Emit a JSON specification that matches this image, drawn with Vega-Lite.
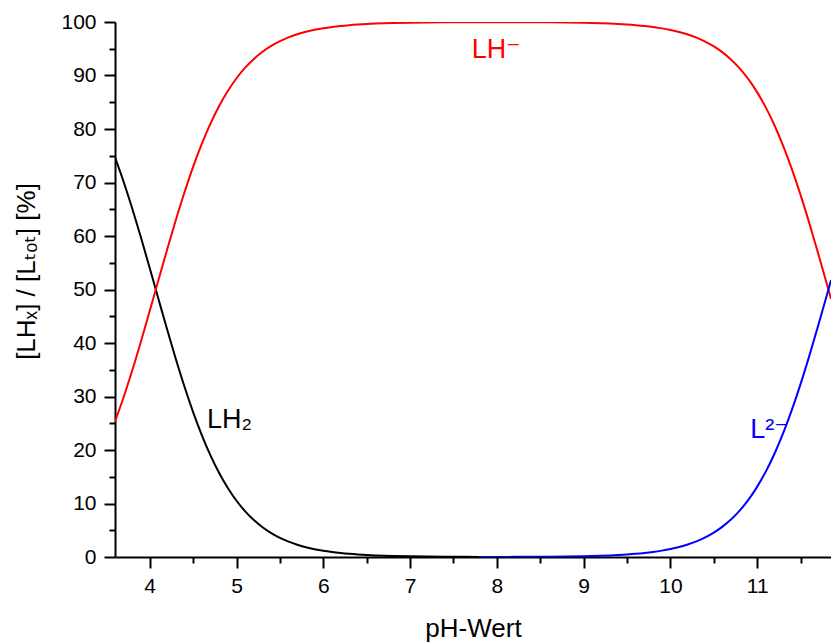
{
  "$schema": "https://vega.github.io/schema/vega-lite/v6.json",
  "width": 716,
  "height": 535,
  "autosize": {"type": "none"},
  "padding": {"left": 115, "top": 22, "right": 0, "bottom": 85},
  "background": "white",
  "config": {
    "view": {"stroke": null},
    "font": "Liberation Sans",
    "axis": {
      "domainColor": "#000000",
      "domainWidth": 2,
      "tickColor": "#000000",
      "tickWidth": 2,
      "grid": false,
      "labelFont": "Liberation Sans",
      "labelColor": "#000000",
      "labelFontSize": 21,
      "titleFont": "Liberation Sans, DejaVu Sans, Noto Sans",
      "titleFontSize": 26,
      "titleFontWeight": "normal",
      "titleColor": "#000000"
    }
  },
  "datasets": {
    "curves": [
      {"pH": 3.6, "LH2": 74.69, "LHm": 25.31},
      {"pH": 3.7, "LH2": 70.10, "LHm": 29.90},
      {"pH": 3.8, "LH2": 65.06, "LHm": 34.94},
      {"pH": 3.9, "LH2": 59.66, "LHm": 40.34},
      {"pH": 4.0, "LH2": 54.02, "LHm": 45.98},
      {"pH": 4.1, "LH2": 48.27, "LHm": 51.73},
      {"pH": 4.2, "LH2": 42.57, "LHm": 57.43},
      {"pH": 4.3, "LH2": 37.06, "LHm": 62.94},
      {"pH": 4.4, "LH2": 31.87, "LHm": 68.13},
      {"pH": 4.5, "LH2": 27.09, "LHm": 72.91},
      {"pH": 4.6, "LH2": 22.79, "LHm": 77.21},
      {"pH": 4.7, "LH2": 18.99, "LHm": 81.01},
      {"pH": 4.8, "LH2": 15.70, "LHm": 84.30},
      {"pH": 4.9, "LH2": 12.89, "LHm": 87.11},
      {"pH": 5.0, "LH2": 10.51, "LHm": 89.49},
      {"pH": 5.1, "LH2": 8.54, "LHm": 91.46},
      {"pH": 5.2, "LH2": 6.90, "LHm": 93.10},
      {"pH": 5.3, "LH2": 5.56, "LHm": 94.44},
      {"pH": 5.4, "LH2": 4.47, "LHm": 95.53},
      {"pH": 5.5, "LH2": 3.58, "LHm": 96.42},
      {"pH": 5.6, "LH2": 2.87, "LHm": 97.13},
      {"pH": 5.7, "LH2": 2.29, "LHm": 97.71},
      {"pH": 5.8, "LH2": 1.83, "LHm": 98.17},
      {"pH": 5.9, "LH2": 1.46, "LHm": 98.54},
      {"pH": 6.0, "LH2": 1.16, "LHm": 98.84},
      {"pH": 6.1, "LH2": 0.925, "LHm": 99.075},
      {"pH": 6.2, "LH2": 0.736, "LHm": 99.264},
      {"pH": 6.3, "LH2": 0.585, "LHm": 99.415},
      {"pH": 6.4, "LH2": 0.466, "LHm": 99.534},
      {"pH": 6.5, "LH2": 0.370, "LHm": 99.63},
      {"pH": 6.6, "LH2": 0.294, "LHm": 99.706},
      {"pH": 6.8, "LH2": 0.186, "LHm": 99.814},
      {"pH": 7.0, "LH2": 0.117, "LHm": 99.88},
      {"pH": 7.2, "LH2": 0.074, "LHm": 99.92},
      {"pH": 7.4, "LH2": 0.047, "LHm": 99.95},
      {"pH": 7.6, "LH2": 0.029, "LHm": 99.965},
      {"pH": 7.8, "LH2": 0.019, "LHm": 99.97, "L2m": 0.0095},
      {"pH": 8.0, "LHm": 99.973, "L2m": 0.015},
      {"pH": 8.2, "LHm": 99.969, "L2m": 0.024},
      {"pH": 8.4, "LHm": 99.957, "L2m": 0.038},
      {"pH": 8.6, "LHm": 99.937, "L2m": 0.060},
      {"pH": 8.8, "LHm": 99.903, "L2m": 0.095},
      {"pH": 9.0, "LHm": 99.848, "L2m": 0.151},
      {"pH": 9.2, "LHm": 99.76, "L2m": 0.239},
      {"pH": 9.4, "LHm": 99.62, "L2m": 0.379},
      {"pH": 9.5, "LHm": 99.523, "L2m": 0.477},
      {"pH": 9.6, "LHm": 99.401, "L2m": 0.599},
      {"pH": 9.7, "LHm": 99.247, "L2m": 0.753},
      {"pH": 9.8, "LHm": 99.054, "L2m": 0.946},
      {"pH": 9.9, "LHm": 98.81, "L2m": 1.19},
      {"pH": 10.0, "LHm": 98.51, "L2m": 1.49},
      {"pH": 10.1, "LHm": 98.13, "L2m": 1.87},
      {"pH": 10.2, "LHm": 97.66, "L2m": 2.34},
      {"pH": 10.3, "LHm": 97.07, "L2m": 2.93},
      {"pH": 10.4, "LHm": 96.34, "L2m": 3.66},
      {"pH": 10.5, "LHm": 95.43, "L2m": 4.57},
      {"pH": 10.6, "LHm": 94.32, "L2m": 5.68},
      {"pH": 10.7, "LHm": 92.95, "L2m": 7.05},
      {"pH": 10.8, "LHm": 91.28, "L2m": 8.72},
      {"pH": 10.9, "LHm": 89.27, "L2m": 10.73},
      {"pH": 11.0, "LHm": 86.85, "L2m": 13.15},
      {"pH": 11.1, "LHm": 84.00, "L2m": 16.00},
      {"pH": 11.2, "LHm": 80.65, "L2m": 19.35},
      {"pH": 11.3, "LHm": 76.81, "L2m": 23.19},
      {"pH": 11.4, "LHm": 72.45, "L2m": 27.55},
      {"pH": 11.5, "LHm": 67.63, "L2m": 32.37},
      {"pH": 11.6, "LHm": 62.40, "L2m": 37.60},
      {"pH": 11.7, "LHm": 56.87, "L2m": 43.13},
      {"pH": 11.8, "LHm": 51.15, "L2m": 48.85},
      {"pH": 11.85, "LHm": 48.27, "L2m": 51.73}
    ],
    "labels": [
      {"pH": 4.66, "pct": 24.1, "species": "LH2", "label": "LH₂"},
      {"pH": 7.71, "pct": 93.2, "species": "LHm", "label": "LH⁻"},
      {"pH": 10.92, "pct": 22.3, "species": "L2m", "label": "L²⁻"}
    ]
  },
  "layer": [
    {
      "data": {"name": "curves"},
      "transform": [{"fold": ["LH2", "LHm", "L2m"], "as": ["species", "pct"]}],
      "mark": {"type": "line", "strokeWidth": 2, "interpolate": "monotone", "clip": true},
      "encoding": {
        "x": {
          "field": "pH", "type": "quantitative",
          "scale": {"domain": [3.6, 11.85], "nice": false, "zero": false},
          "axis": {
            "orient": "bottom",
            "values": [4, 5, 6, 7, 8, 9, 10, 11],
            "tickSize": 11,
            "labelPadding": 7,
            "title": "pH-Wert",
            "titlePadding": 19
          }
        },
        "y": {
          "field": "pct", "type": "quantitative",
          "scale": {"domain": [0, 100], "nice": false},
          "axis": {
            "orient": "left",
            "values": [0, 10, 20, 30, 40, 50, 60, 70, 80, 90, 100],
            "tickSize": 11,
            "labelPadding": 8,
            "title": "[LHₓ] / [Lₜₒₜ] [%]",
            "titlePadding": 21,
            "titleY": 249
          }
        },
        "color": {
          "field": "species", "type": "nominal",
          "scale": {"domain": ["LH2", "LHm", "L2m"], "range": ["#000000", "#ff0000", "#0000ff"]},
          "legend": null
        }
      }
    },
    {
      "data": {"name": "labels"},
      "mark": {"type": "text", "fontSize": 27, "align": "left", "baseline": "alphabetic", "font": "Liberation Sans, DejaVu Sans, Noto Sans"},
      "encoding": {
        "x": {
          "field": "pH", "type": "quantitative",
          "scale": {"domain": [3.6, 11.85], "nice": false, "zero": false},
          "axis": {
            "orient": "bottom",
            "values": [4.5, 5.5, 6.5, 7.5, 8.5, 9.5, 10.5, 11.5],
            "tickSize": 6,
            "labels": false,
            "domain": false,
            "title": null
          }
        },
        "y": {
          "field": "pct", "type": "quantitative",
          "scale": {"domain": [0, 100], "nice": false},
          "axis": {
            "orient": "left",
            "values": [5, 15, 25, 35, 45, 55, 65, 75, 85, 95],
            "tickSize": 6,
            "labels": false,
            "domain": false,
            "title": null
          }
        },
        "color": {
          "field": "species", "type": "nominal",
          "scale": {"domain": ["LH2", "LHm", "L2m"], "range": ["#000000", "#ff0000", "#0000ff"]},
          "legend": null
        },
        "text": {"field": "label"}
      }
    }
  ],
  "resolve": {"axis": {"x": "independent", "y": "independent"}}
}
